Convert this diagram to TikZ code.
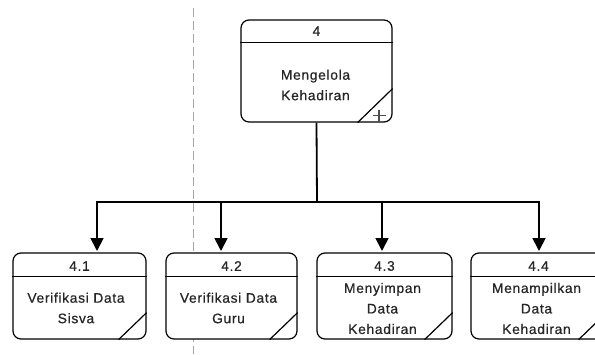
\documentclass[tikz,border=0pt]{standalone}
\usepackage{fontspec}
\setmainfont{Liberation Sans}[LetterSpace=5,FakeBold=0.6]
\usetikzlibrary{calc,arrows.meta}

\tikzset{
  proc/.style={draw, fill=white, rounded corners=8pt, line width=1.2pt, inner sep=0pt},
  smallproc/.style={proc, minimum height=86pt},
  rule/.style={line width=1.2pt},
  label/.style={font=\fontsize{13.8}{20.5}\selectfont, align=center, inner sep=0pt, text=black!85},
  link/.style={line width=1.8pt},
  arr/.style={link, -{Triangle[width=13pt,length=13pt]}},
  divider/.style={draw=black!35, line width=0.9pt, dash pattern=on 9pt off 4pt}
}

\begin{document}
\begin{tikzpicture}[x=1pt,y=-1pt]
\useasboundingbox (0,0) rectangle (595,354);
\clip (0,0) rectangle (595,354);

% boundary line
\coordinate (dtop) at (193,8);
\coordinate (dbot) at (193,354);
\draw[divider] (dtop) -- (dbot);

% parent process
\node[proc, minimum width=151pt, minimum height=102pt] (p4) at (316.5,71) {};
\draw[rule] ($(p4.north west)+(0,23)$) -- ($(p4.north east)+(0,23)$);
\draw[rule] ($(p4.south east)+(-35,0)$) -- ($(p4.south east)+(0,-34)$);
\draw[line width=1.5pt, black!70] ($(p4.south east)+(-20,-7)$) -- ++(13,0)
                      ($(p4.south east)+(-13.5,-13)$) -- ++(0,12);
\node[label] (n4) at (316.5,31) {4};
\node[label] (t4) at (315.5,85) {Mengelola\\Kehadiran};

% child processes
\node[smallproc, minimum width=133pt] (p41) at (79.5,296) {};
\node[smallproc, minimum width=131pt] (p42) at (231.5,296) {};
\node[smallproc, minimum width=135pt] (p43) at (384.5,296) {};
\node[smallproc, minimum width=135pt] (p44) at (538.5,296) {};

\foreach \p in {p41,p42,p43,p44}{
  \draw[rule] ($(\p.north west)+(0,24)$) -- ($(\p.north east)+(0,24)$);
  \draw[rule] ($(\p.south east)+(-28,0)$) -- ($(\p.south east)+(0,-27)$);
}

\node[label] (n41) at (79.5,266) {4.1};
\node[label] (n42) at (231.5,266) {4.2};
\node[label] (n43) at (384.5,266) {4.3};
\node[label] (n44) at (538.5,266) {4.4};

\node[label] (t41) at (76,308) {Verifikasi Data\\Sisva};
\node[label] (t42) at (228.5,308) {Verifikasi Data\\Guru};
\node[label] (t43) at (382.5,308.5) {Menyimpan\\Data\\Kehadiran};
\node[label] (t44) at (536.5,308.5) {Menampilkan\\Data\\Kehadiran};

% decomposition connectors
\coordinate (j) at (317,202);
\coordinate (a41) at (97,251);
\coordinate (a42) at (221,251);
\coordinate (a43) at (382,251);
\coordinate (a44) at (539,251);
\draw[link] (p4.south) -- (j);
\draw[arr] (j) -| (a41);
\draw[arr] (j) -| (a42);
\draw[arr] (j) -| (a43);
\draw[arr] (j) -| (a44);
\end{tikzpicture}
\end{document}
